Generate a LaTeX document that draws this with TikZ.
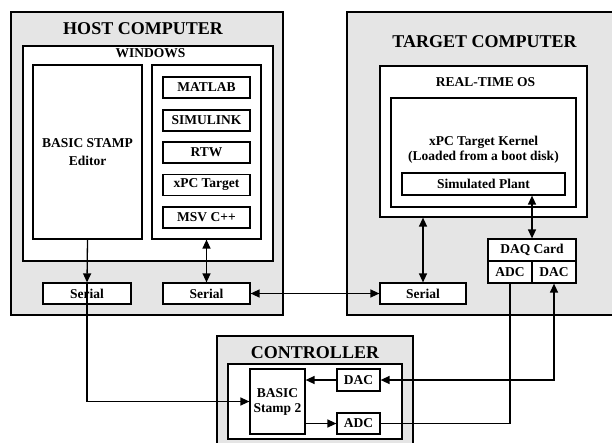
\documentclass[tikz,border=0pt]{standalone}
\usepackage{fontspec}
\setmainfont{Liberation Serif}
\usetikzlibrary{arrows.meta}
\tikzset{
  outerbox/.style={draw=black, line width=2pt, fill=gray!20},
  whitebox/.style={draw=black, line width=1.2pt, fill=white},
  box/.style={draw=black, line width=1.2pt, fill=white, inner sep=0pt, font=\fontsize{13.5}{15}\selectfont\bfseries, align=center},
  title/.style={font=\fontsize{18}{20}\selectfont\bfseries, inner sep=0pt},
  sublabel/.style={font=\fontsize{13.5}{15}\selectfont\bfseries, inner sep=0pt},
  conn/.style={line width=1.3pt},
  arr/.style={conn, -{Triangle[length=9pt,width=8pt]}},
  darr/.style={conn, {Triangle[length=9pt,width=8pt]}-{Triangle[length=9pt,width=8pt]}},
}
\begin{document}
\begin{tikzpicture}[x=1pt,y=-1pt]
\clip (0,0) rectangle (612,442);
\fill[white] (0,0) rectangle (612,442);
% HOST
\node[outerbox, minimum width=272pt, minimum height=303pt, inner sep=0pt] (host) at (147,163.5) {};
\node[title] (hostt) at (143,29) {HOST COMPUTER};
\node[whitebox, minimum width=250pt, minimum height=215pt, inner sep=0pt] (win) at (148,153.5) {};
\node[sublabel] (wint) at (150.5,53) {WINDOWS};
\node[box, minimum width=109pt, minimum height=174pt] (editor) at (87.5,152) {BASIC STAMP\\[3pt]Editor};
\node[box, minimum width=109pt, minimum height=174pt] (rp) at (206.5,152) {};
\node[box, minimum width=87pt, minimum height=21pt] (matlab) at (206.5,87.5) {MATLAB};
\node[box, minimum width=87pt, minimum height=21pt] (simulink) at (206.5,120.5) {SIMULINK};
\node[box, minimum width=87pt, minimum height=21pt] (rtw) at (206.5,152.5) {RTW};
\node[box, minimum width=87pt, minimum height=21pt] (xpc) at (206.5,185) {xPC Target};
\node[box, minimum width=87pt, minimum height=21pt] (msv) at (206.5,217.5) {MSV C++};
\node[box, minimum width=88pt, minimum height=21pt] (s1) at (87,293.5) {Serial};
\node[box, minimum width=87pt, minimum height=21pt] (s2) at (206.5,293.5) {Serial};
% TARGET
\node[outerbox, minimum width=270pt, minimum height=303pt, inner sep=0pt] (target) at (482,163.5) {};
\node[title] (targett) at (484.5,42) {TARGET COMPUTER};
\node[whitebox, minimum width=207pt, minimum height=151pt, inner sep=0pt] (rtos) at (483.5,141.5) {};
\node[sublabel] (rtost) at (485.5,82) {REAL-TIME OS};
\node[box, minimum width=185pt, minimum height=109pt] (kernel) at (483.5,152.5) {};
\node[sublabel, align=center] (kernelt) at (483.5,150) {xPC Target Kernel\\(Loaded from a boot disk)};
\node[box, minimum width=163pt, minimum height=22pt] (plant) at (483.5,184) {Simulated Plant};
\node[box, minimum width=88pt, minimum height=22pt] (daq) at (532,250) {DAQ Card};
\node[box, minimum width=44pt, minimum height=22pt] (adc) at (510,272) {ADC};
\node[box, minimum width=44pt, minimum height=22pt] (dac) at (554,272) {DAC};
\node[box, minimum width=86pt, minimum height=21pt] (ts) at (423,293.5) {Serial};
% CONTROLLER
\node[outerbox, minimum width=196pt, minimum height=130pt, inner sep=0pt] (ctrl) at (315,401) {};
\node[title] (ctrlt) at (315,353) {CONTROLLER};
\node[whitebox, minimum width=174pt, minimum height=75pt, inner sep=0pt] (cin) at (315,401.5) {};
\node[box, minimum width=55pt, minimum height=65pt] (stamp) at (277.5,401.5) {BASIC\\Stamp 2};
\node[box, minimum width=43pt, minimum height=22pt] (cdac) at (358.5,380) {DAC};
\node[box, minimum width=43pt, minimum height=21pt] (cadc) at (358.5,423.5) {ADC};
% connectors
\draw[arr] (editor.south) -- (s1.north);
\draw[arr] (s1.north) |- (stamp.west);
\draw[darr] (rp.south) -- (s2.north);
\draw[darr] (ts.west) -- (s2.east);
\draw[darr] (ts.north |- rtos.south) -- (ts.north);
\draw[darr] (daq.north |- plant.south) -- (daq.north);
\draw[conn] (adc.south) |- (cadc.east);
\draw[darr] (dac.south) |- (cdac.east);
\draw[arr] (cdac.west) -- (cdac.west -| stamp.east);
\draw[arr] (cadc.west -| stamp.east) -- (cadc.west);
\end{tikzpicture}
\end{document}
